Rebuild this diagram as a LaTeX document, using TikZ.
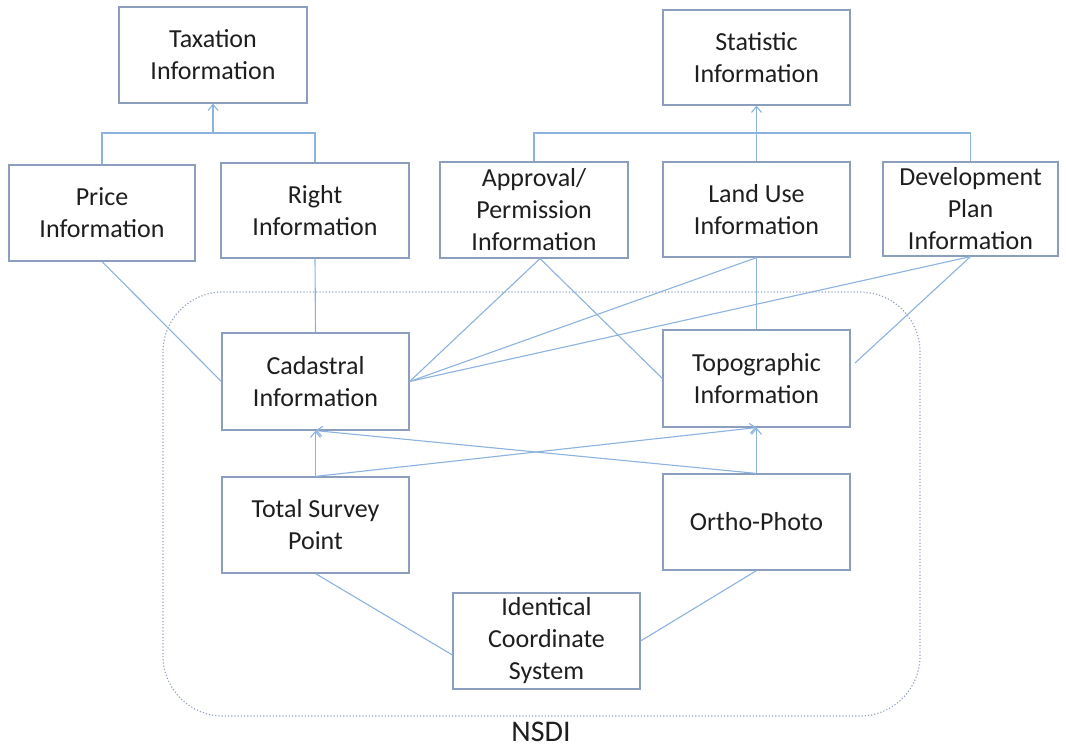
\documentclass[tikz,border=0pt]{standalone}
\usepackage{fontspec}
\setmainfont{Carlito}
\usetikzlibrary{arrows.meta,calc}
\definecolor{linkc}{RGB}{140,178,222}
\definecolor{boxc}{RGB}{140,158,190}
\definecolor{framec}{RGB}{150,165,195}
\definecolor{txtc}{RGB}{30,30,30}
\begin{document}
\begin{tikzpicture}[x=0.5pt,y=-0.5pt,
  infobox/.style={draw=boxc, line width=0.6pt, minimum width=94pt, minimum height=48pt,
    align=center, inner sep=1pt, font=\fontsize{13}{16}\selectfont, text=txtc},
  link/.style={draw=linkc, line width=0.55pt},
  arr/.style={link, -{Straight Barb[length=3pt,width=5pt]}}]
\useasboundingbox (0,0) rectangle (1066,749);
% NSDI frame
\draw[framec, densely dotted, line width=0.6pt, rounded corners=30pt] (163,292) rectangle (920,716);
\node[font=\fontsize{15}{18}\selectfont, text=txtc, inner sep=0pt] (nsdi) at (541,732) {NSDI};
% boxes
\node[infobox] (tax) at (213,55) {Taxation\\Information};
\node[infobox, minimum width=93.5pt, minimum height=47.5pt] (stat) at (756.5,57.5) {Statistic\\Information};
\node[infobox, minimum width=93pt] (price) at (102,213) {Price\\Information};
\node[infobox, minimum height=47.5pt] (right) at (315,210.5) {Right\\Information};
\node[infobox] (appr) at (534,210) {Approval/\\Permission\\Information};
\node[infobox, minimum width=93.5pt, minimum height=47.5pt] (land) at (756.5,209.5) {Land Use\\Information};
\node[infobox, minimum width=87.5pt, minimum height=47pt] (dev) at (970.5,209) {Development\\Plan\\Information};
\node[infobox, minimum width=93.5pt, minimum height=48.5pt] (cad) at (315.5,381.5) {Cadastral\\Information};
\node[infobox, minimum width=93.5pt, minimum height=48.5pt] (topo) at (756.5,378.5) {Topographic\\Information};
\node[infobox, minimum width=93.5pt] (tsp) at (315.5,525) {Total Survey\\Point};
\node[infobox, minimum width=93.5pt] (ortho) at (756.5,522) {Ortho-Photo};
\node[infobox, minimum width=93.5pt] (ics) at (546.5,641) {Identical\\Coordinate\\System};
% buses
\coordinate (taxbus) at (213,133);
\coordinate (statbus) at (756.5,133);
\draw[link] (price.north) |- (taxbus) -| (right.north);
\draw[arr] (taxbus) -- (tax.south);
\draw[link] (appr.north) |- (statbus) -| (dev.north);
\draw[arr] (land.north) -- (stat.south);
% upper links
\coordinate (topoend) at (855,363);
\draw[link] (price.south) -- (cad.west);
\draw[link] (right.south) -- (cad.north);
\draw[link] ($(appr.south)+(6,0)$) -- (cad.east);
\draw[link] ($(appr.south)+(6,0)$) -- (topo.west);
\draw[link] (land.south) -- (cad.east);
\draw[link] (land.south) -- (topo.north);
\draw[link] (dev.south) -- (cad.east);
\draw[link] (dev.south) -- (topoend);
% arrows within NSDI
\draw[arr] (tsp.north) -- (cad.south);
\draw[arr] (tsp.north) -- (topo.south);
\draw[arr] (ortho.north) -- (topo.south);
\draw[arr] (ortho.north) -- (cad.south);
% lower links
\draw[link] (tsp.south) -- ($(ics.west)+(0,14)$);
\draw[link] (ortho.south) -- (ics.east);
\end{tikzpicture}
\end{document}
